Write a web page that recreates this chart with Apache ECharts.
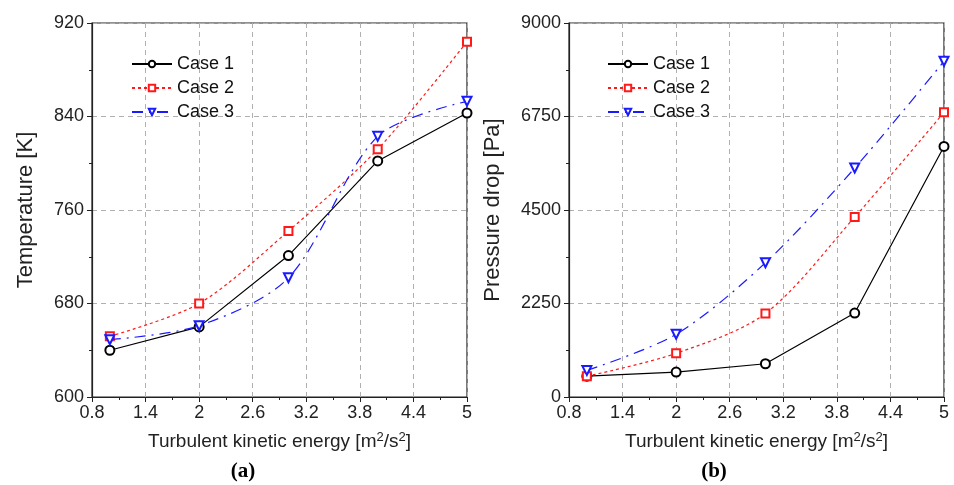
<!DOCTYPE html>
<html><head><meta charset="utf-8">
<script src="https://cdn.jsdelivr.net/npm/echarts@6/dist/echarts.min.js"></script>
<style>html,body{margin:0;padding:0;background:#fff}#c{width:954px;height:485px}</style>
</head><body><div id="c"></div>
<script>
const energy = [1, 2, 3, 4, 5];
const seriesNames = ['Case 1', 'Case 2', 'Case 3'];
const tempCase1 = [640, 660, 721, 802, 843];
const tempCase2 = [652, 680, 742, 812, 904];
const tempCase3 = [649, 661, 702, 823, 853];
const presCase1 = [500, 600, 800, 2020, 6030];
const presCase2 = [500, 1050, 2010, 4330, 6850];
const presCase3 = [640, 1510, 3230, 5510, 8080];

const FONT = 'Liberation Sans';
const chart = echarts.init(document.getElementById('c'));
const pairs = (ys) => energy.map((x, i) => [x, ys[i]]);

const styles = [
  {color: '#000000', symbol: 'emptyCircle', size: 9, type: 'solid', smooth: false, rot: 0},
  {color: '#ff1a1a', symbol: 'emptyRect', size: 8, type: [3, 3], smooth: 0.3, rot: 0},
  {color: '#1a1aff', symbol: 'emptyTriangle', size: 9, type: [11, 6, 2, 6], smooth: 0.3, rot: 180}
];

function mkSeries(name, idx, data, axisIdx) {
  const s = styles[idx];
  return {
    name, type: 'line', xAxisIndex: axisIdx, yAxisIndex: axisIdx,
    data: pairs(data), smooth: s.smooth, symbol: s.symbol, symbolSize: s.size,
    symbolRotate: s.rot, showSymbol: true,
    lineStyle: {color: s.color, width: 1.2, type: s.type},
    itemStyle: {color: s.color, borderColor: s.color, borderWidth: 1.6},
    z: 3 + idx
  };
}

const xName = {
  rich: {
    n: {fontFamily: FONT, fontSize: 19, color: '#222'},
    s: {fontFamily: FONT, fontSize: 13, color: '#222', verticalAlign: 'top', padding: [0, 0, 9, 0]}
  }
};

function mkX(gi) {
  return {
    type: 'value', gridIndex: gi, min: 0.8, max: 5, interval: 0.6,
    name: '{n|Turbulent kinetic energy [m}{s|2}{n|/s}{s|2}{n|]}',
    nameLocation: 'middle', nameGap: 34,
    nameTextStyle: xName,
    axisLine: {show: true, lineStyle: {color: '#222', width: 1.2}},
    axisTick: {show: true, inside: false, length: 5, lineStyle: {color: '#222'}},
    minorTick: {show: true, splitNumber: 2, length: 3, lineStyle: {color: '#222'}},
    axisLabel: {fontFamily: FONT, fontSize: 18, color: '#222', margin: 7,
      formatter: v => String(Math.round(v * 10) / 10)},
    splitLine: {show: true, lineStyle: {color: '#b0b0b0', type: [5, 4], width: 1}}
  };
}
function mkY(gi, min, max, interval, name, gap) {
  return {
    type: 'value', gridIndex: gi, min, max, interval,
    name, nameLocation: 'middle', nameGap: gap,
    nameTextStyle: {fontFamily: FONT, fontSize: 22, color: '#222'},
    axisLine: {show: true, lineStyle: {color: '#222', width: 1.2}},
    axisTick: {show: true, inside: false, length: 5, lineStyle: {color: '#222'}},
    minorTick: {show: true, splitNumber: 2, length: 3, lineStyle: {color: '#222'}},
    axisLabel: {fontFamily: FONT, fontSize: 18, color: '#222', margin: 8,
      formatter: v => String(v)},
    splitLine: {show: true, lineStyle: {color: '#b0b0b0', type: [5, 4], width: 1}}
  };
}

const legendBase = {
  orient: 'vertical', itemWidth: 40, itemHeight: 8, itemGap: 6, padding: 0,
  textStyle: {fontFamily: FONT, fontSize: 18, color: '#111'},
  data: seriesNames, selectedMode: false, top: 55
};

chart.setOption({
  animation: false,
  backgroundColor: '#fff',
  grid: [
    {left: 92, right: 487, top: 23, bottom: 88, show: true, borderColor: '#222', borderWidth: 1.2},
    {left: 569, right: 10, top: 23, bottom: 88, show: true, borderColor: '#222', borderWidth: 1.2}
  ],
  xAxis: [mkX(0), mkX(1)],
  yAxis: [mkY(0, 600, 920, 80, 'Temperature [K]', 55), mkY(1, 0, 9000, 2250, 'Pressure drop [Pa]', 65)],
  legend: [
    Object.assign({}, legendBase, {left: 131}),
    Object.assign({}, legendBase, {left: 607})
  ],
  series: [
    mkSeries('Case 1', 0, tempCase1, 0),
    mkSeries('Case 2', 1, tempCase2, 0),
    mkSeries('Case 3', 2, tempCase3, 0),
    mkSeries('Case 1', 0, presCase1, 1),
    mkSeries('Case 2', 1, presCase2, 1),
    mkSeries('Case 3', 2, presCase3, 1)
  ],
  graphic: [
    {type: 'text', x: 243, y: 472, style: {text: '(a)', font: 'bold 21px "Liberation Serif"', fill: '#000', align: 'center', verticalAlign: 'middle'}},
    {type: 'text', x: 714, y: 472, style: {text: '(b)', font: 'bold 21px "Liberation Serif"', fill: '#000', align: 'center', verticalAlign: 'middle'}}
  ]
});
</script></body></html>
